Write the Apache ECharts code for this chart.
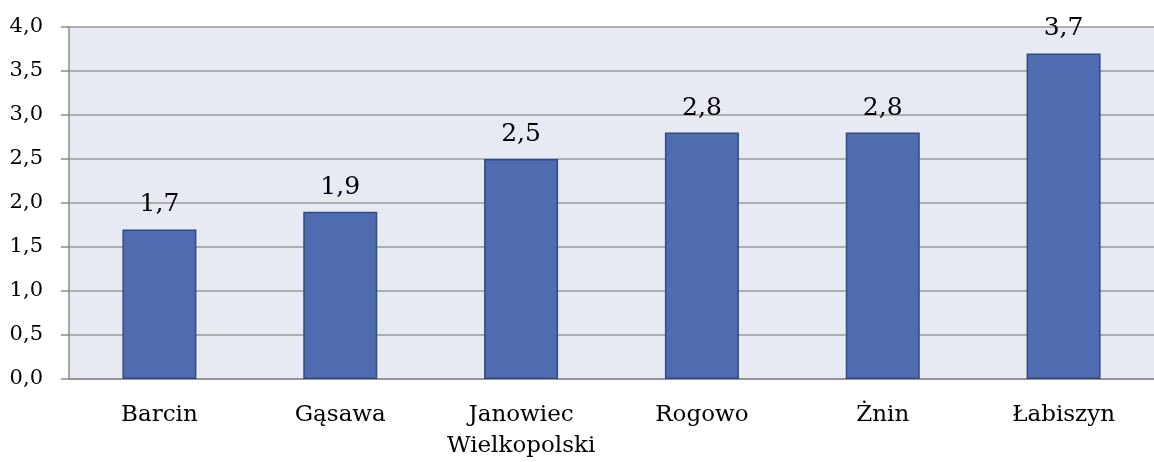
<!DOCTYPE html>
<html>
<head>
<meta charset="utf-8">
<script src="https://cdn.jsdelivr.net/npm/echarts@6/dist/echarts.min.js"></script>
<style>
  html, body { margin: 0; padding: 0; background: #fff; }
  #chart { width: 1154px; height: 462px; }
</style>
</head>
<body>
<div id="chart"></div>
<script>
const categories = ['Barcin', 'Gąsawa', 'Janowiec\nWielkopolski', 'Rogowo', 'Żnin', 'Łabiszyn']
const values = [1.7, 1.9, 2.5, 2.8, 2.8, 3.7]
const yTicks = [0, 0.5, 1, 1.5, 2, 2.5, 3, 3.5, 4]

const fontFamily = 'DejaVu Serif'
const fmt = v => v.toFixed(1).replace('.', ',')

const chart = echarts.init(document.getElementById('chart'))
chart.setOption({
  animation: false,
  textStyle: { fontFamily: fontFamily },
  grid: {
    left: 69,
    right: -13,
    top: 27,
    bottom: 83,
    show: true,
    backgroundColor: '#e7eaf3',
    borderWidth: 0
  },
  xAxis: {
    type: 'category',
    data: categories,
    axisLine: { lineStyle: { color: '#8c8c8c', width: 1.5 } },
    axisTick: { length: 8, lineStyle: { color: '#8c8c8c', width: 1.5 } },
    axisLabel: {
      interval: 0,
      color: '#000',
      fontSize: 23,
      fontFamily: fontFamily,
      lineHeight: 31,
      margin: 21
    }
  },
  yAxis: {
    type: 'value',
    min: yTicks[0],
    max: yTicks[yTicks.length - 1],
    interval: 0.5,
    axisLine: { show: true, lineStyle: { color: '#8c8c8c', width: 1.5 } },
    axisTick: { show: true, length: 8, lineStyle: { color: '#8c8c8c', width: 1.5 } },
    splitLine: { lineStyle: { color: '#9a9a9a', width: 1.5 } },
    axisLabel: {
      color: '#000',
      fontSize: 21,
      fontFamily: fontFamily,
      margin: 26,
      formatter: fmt
    }
  },
  series: [{
    type: 'bar',
    data: values,
    barWidth: 74,
    itemStyle: {
      color: '#506cb0',
      borderColor: '#2f4b82',
      borderWidth: 1.5
    },
    label: {
      show: true,
      position: 'top',
      distance: 12,
      color: '#000',
      fontSize: 25,
      fontFamily: fontFamily,
      formatter: p => fmt(p.value)
    }
  }]
})
</script>
</body>
</html>
